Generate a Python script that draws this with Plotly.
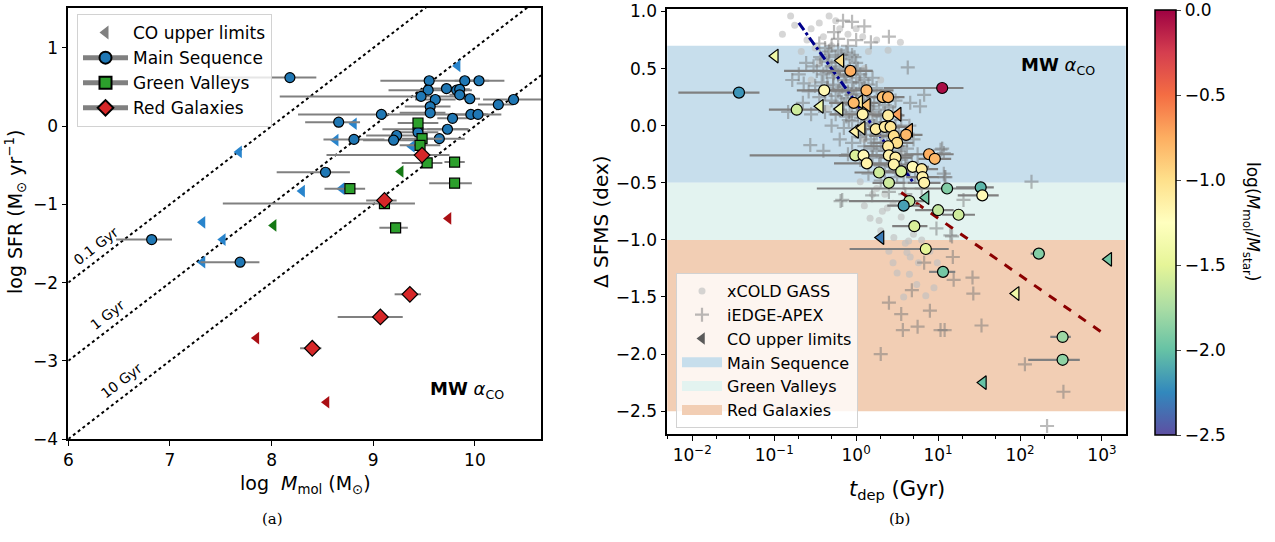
import numpy as np
import plotly.graph_objects as go

# ---------------- Panel (a) data ----------------
ms_x = [8.18, 9.55, 9.90, 10.04, 9.54, 9.72, 9.82, 9.85, 9.47, 9.61, 9.85, 9.95, 10.23, 10.38, 9.56, 9.56,
        9.08, 9.78, 9.96, 10.03, 8.66, 9.44, 9.73, 9.23, 9.20, 8.81, 9.65, 9.44, 8.53, 6.82, 7.69]
ms_y = [0.62, 0.58, 0.58, 0.58, 0.46, 0.48, 0.46, 0.47, 0.38, 0.34, 0.40, 0.35, 0.275, 0.34, 0.25, 0.17,
        0.15, 0.10, 0.15, 0.15, 0.05, -0.04, -0.04, -0.12, -0.18, -0.17, -0.16, -0.08, -0.59, -1.45, -1.74]
ms_elo = [0.72, 0.48, 0.10, 0.10, 0.39, 0.15, 0.10, 0.10, 1.39, 0.20, 0.10, 0.10, 0.20, 0.30, 0.25, 0.30,
          0.82, 0.15, 0.15, 0.10, 0.33, 0.35, 0.20, 0.30, 0.30, 0.30, 0.25, 0.20, 0.48, 0.35, 0.39]
ms_ehi = [0.26, 0.74, 0.10, 0.10, 0.43, 0.15, 0.10, 0.10, 0.48, 0.20, 0.10, 0.10, 0.15, 0.30, 0.20, 0.15,
          1.18, 0.15, 0.15, 0.10, 0.21, 0.50, 0.20, 0.30, 0.30, 0.30, 0.25, 0.20, 0.24, 0.20, 0.19]

gv_x = [9.44, 9.48, 9.46, 9.53, 9.80, 9.80, 8.77, 9.11, 9.22]
gv_y = [0.04, -0.16, -0.245, -0.47, -0.46, -0.73, -0.80, -0.99, -1.30]
gv_elo = [0.20, 0.20, 0.20, 0.25, 0.10, 0.25, 0.25, 1.59, 0.16]
gv_ehi = [0.20, 0.20, 0.20, 0.15, 0.10, 0.17, 0.15, 0.30, 0.12]

rg_x = [9.48, 9.11, 9.36, 9.07, 8.40]
rg_y = [-0.37, -0.95, -2.15, -2.44, -2.84]
rg_elo = [0.94, 0.18, 0.15, 0.42, 0.12]
rg_ehi = [0.27, 0.12, 0.11, 0.22, 0.09]

ulms_x = [9.83, 8.81, 8.63, 9.38, 7.68, 8.69, 8.30, 7.32, 7.52, 7.32]
ulms_y = [0.77, 0.03, -0.18, -0.26, -0.33, -0.80, -0.83, -1.23, -1.45, -1.74]
ulgv_x = [9.27, 8.02]
ulgv_y = [-0.58, -1.27]
ulrg_x = [9.74, 7.85, 8.54]
ulrg_y = [-1.18, -2.71, -3.53]

tdep_lines_gyr = [0.1, 1, 10]
tdep_labels = ["0.1 Gyr", "1 Gyr", "10 Gyr"]
tdep_label_x = [6.27, 6.38, 6.52]
tdep_label_y = [-1.53, -2.41, -3.26]

# ---------------- Panel (b) data ----------------
det_logt = [-1.43, 1.05, -0.07, -0.39, 0.126, -0.725, -0.03, 0.325, 0.39, 0.08, 0.39, 0.24, 0.35, 0.42,
            0.61, 0.46, 0.50, 0.39, 0.40, 0.48, 0.46, -0.01, 0.09, 0.13, 0.89, 0.96, 0.69, 0.80, 0.81,
            0.83, 0.28, 0.55, 0.40, 1.11, 0.65, 0.58, 1.00, 1.25, 0.71, 1.52, 1.54, 2.23, 1.06, 0.85,
            2.52, 2.52]
det_dsfms = [0.29, 0.33, 0.48, 0.31, 0.31, 0.14, 0.20, 0.25, 0.25, 0.10, 0.09, -0.03, -0.01, -0.01,
             -0.08, -0.09, -0.15, -0.18, -0.26, -0.28, -0.34, -0.26, -0.26, -0.33, -0.25, -0.29, -0.36,
             -0.38, -0.45, -0.50, -0.41, -0.40, -0.50, -0.55, -0.66, -0.70, -0.74, -0.78, -0.88, -0.54,
             -0.61, -1.12, -1.28, -1.08, -1.85, -2.05]
det_ratio = [-2.2, -0.05, -0.75, -1.2, -0.8, -1.6, -0.8, -0.85, -0.8, -1.15, -1.1, -1.1, -1.1, -1.05,
             -0.8, -1.0, -1.0, -1.1, -1.15, -1.1, -1.15, -1.55, -1.2, -1.15, -0.75, -0.8, -1.2, -1.1,
             -1.15, -1.15, -1.6, -1.55, -1.6, -1.9, -1.65, -2.15, -1.65, -1.6, -1.55, -2.05, -1.2, -1.9,
             -1.95, -1.5, -1.8, -1.85]
det_elo = [0.74, 0.71, 0.81, 0.20, 0.85, 0.34, 0.30, 0.20, 0.20, 0.40, 0.20, 0.30, 0.20, 0.20, 0.20,
           0.30, 0.30, 0.30, 0.30, 0.20, 0.30, 1.29, 0.30, 0.40, 0.30, 0.20, 0.20, 0.20, 0.20, 0.20,
           0.30, 0.30, 0.20, 1.59, 0.74, 0.20, 0.28, 0.20, 0.27, 0.30, 0.30, 0.10, 0.17, 0.93, 0.15, 0.42]
det_ehi = [0.25, 0.26, 0.27, 0.20, 0.33, 0.29, 0.30, 0.20, 0.20, 0.30, 0.20, 0.20, 0.20, 0.20, 0.20,
           0.20, 0.20, 0.20, 0.30, 0.20, 0.30, 0.50, 0.30, 0.30, 0.30, 0.20, 0.20, 0.20, 0.20, 0.20,
           0.30, 0.30, 0.20, 0.40, 0.18, 0.20, 0.19, 0.20, 0.16, 0.16, 0.20, 0.06, 0.15, 0.28, 0.10, 0.21]

ul_logt = [-0.99, -0.19, 0.134, 0.04, -0.44, -0.20, 0.51, -0.01, 0.07, 0.65, 0.85, 0.30, 3.08, 1.95, 1.55]
ul_dsfms = [0.61, 0.57, 0.18, 0.21, 0.17, 0.146, 0.10, -0.05, -0.02, -0.04, -0.63, -0.98, -1.17, -1.47, -2.25]
ul_ratio = [-1.4, -1.0, -0.85, -1.1, -1.4, -1.35, -0.7, -1.15, -1.1, -0.75, -1.95, -2.3, -1.95, -1.4, -2.0]

iedge_logt = [-0.16, -0.05, 0.10, 0.40, -0.27, -0.22, 0.18, 0.00, -0.10, 0.63, -0.61, -0.78, -0.64, 0.83,
              0.66, 0.78, 1.03, -0.56, -0.40, -0.83, 1.09, -0.17, 0.98, 1.15,
              -0.35, -0.25, -0.15, -0.30, -0.20, -0.10, 0.00, 0.05, -0.40, -0.28, -0.15, -0.05, 0.10, 0.20,
              -0.50, -0.35, -0.22, -0.10, 0.00, 0.15, 0.25, -0.45, -0.30, -0.18, -0.05, 0.08, 0.22, 0.35,
              0.48, -0.38, -0.25, -0.12, 0.02, 0.15, 0.30, 0.45, 0.55, -0.30, -0.15, 0.00, 0.12, 0.25,
              0.38, 0.52, 0.65, -0.20, -0.05, 0.10, 0.22, 0.35, 0.55, 0.70, -0.10, 0.05, 0.20, 0.30, 0.45,
              0.60, 0.75, 0.15, 0.30, 0.50, 0.65, 0.40, 0.60, 0.80,
              1.05, 1.07, 2.14, 1.07, 1.31, 1.17, 1.18, 1.19, 1.42, 1.43, 1.53, 1.03, 2.06, 2.53, 2.33,
              -0.19, 0.195, 1.08, 0.83, 0.68, 0.40, 0.55, 0.75, 0.30, 0.90, 0.57, 1.08,
              -0.45, -0.38, -0.30, -0.22, -0.12, -0.05, -0.42, -0.33, -0.25, -0.08, 0.02, 0.12, -0.48,
              -0.36, -0.22, -0.12, 0.00, 0.15, -0.42, -0.28, -0.17, -0.03, 0.07, 0.30, -0.38, -0.25,
              -0.12, 0.00, 0.13, 0.28, 0.40, -0.20, -0.08, 0.08, 0.20, 0.36, 0.48, -0.05, 0.10, 0.22,
              0.30, 0.44, 0.60, 0.05, 0.18, 0.30, 0.42, 0.50, 0.62, 0.25, 0.40, 0.55, 0.68, 0.35, 0.48,
              0.72, 0.58, -0.58, -0.65, -0.55, -0.70,
              -0.33, -0.18, -0.02, -0.27, -0.13, 0.04, -0.35, -0.20, -0.06, 0.10, -0.15, 0.02, 0.18,
              -0.09, 0.06, 0.25, 0.12, 0.33, 0.45, 0.20, 0.38, 0.52, 0.28, 0.45, 0.62, -0.44, -0.52]
iedge_dsfms = [0.92, 0.91, 0.87, 0.78, 0.82, 0.76, 0.73, 0.75, 0.70, 0.51, 0.55, 0.40, 0.37, 0.27,
               0.20, 0.17, -0.21, -0.17, -0.22, 0.12, -0.45, -0.65, -0.90, -0.96,
               0.62, 0.60, 0.58, 0.52, 0.50, 0.48, 0.55, 0.45, 0.45, 0.42, 0.40, 0.38, 0.40, 0.42,
               0.35, 0.33, 0.30, 0.30, 0.28, 0.30, 0.33, 0.25, 0.22, 0.20, 0.18, 0.22, 0.20, 0.18,
               0.22, 0.12, 0.10, 0.08, 0.10, 0.05, 0.08, 0.12, 0.05, 0.00, -0.02, -0.05, -0.08, -0.05,
               -0.10, -0.05, 0.00, -0.12, -0.15, -0.18, -0.15, -0.22, -0.18, -0.12, -0.25, -0.30, -0.28,
               -0.35, -0.32, -0.28, -0.25, -0.42, -0.48, -0.45, -0.40, -0.58, -0.60, -0.55,
               -0.20, -0.24, -0.49, -0.42, -0.65, -0.97, -1.15, -1.35, -1.33, -1.47, -1.75, -1.79, -2.09,
               -2.33, -2.63, -0.66, -0.61, -0.45, -1.20, -1.44, -1.55, -1.65, -1.76, -2.00, -1.62, -1.79,
               -1.79,
               0.72, 0.68, 0.70, 0.66, 0.64, 0.62, 0.58, 0.56, 0.55, 0.52, 0.50, 0.48, 0.48,
               0.47, 0.44, 0.43, 0.42, 0.36, 0.38, 0.36, 0.34, 0.33, 0.32, 0.26, 0.28, 0.26,
               0.24, 0.22, 0.18, 0.14, 0.16, 0.14, 0.12, 0.14, 0.12, 0.03, 0.00, 0.04, 0.02, 0.00,
               -0.02, -0.06, -0.08, -0.10, -0.12, -0.15, -0.18, -0.12, -0.20, -0.22, -0.26, -0.30, -0.32,
               -0.40, -0.38, -0.45, -0.50, 0.30, 0.20, 0.10, 0.45,
               0.65, 0.62, 0.60, 0.46, 0.45, 0.38, 0.35, 0.32, 0.27, 0.26, 0.19, 0.16, 0.17,
               0.05, 0.07, 0.03, -0.03, -0.08, -0.02, -0.20, -0.19, -0.22, -0.34, -0.36, -0.38, 0.60, 0.52]

xcg_logt = [-0.80, -0.33, -0.90, -0.67, -0.55, -0.45, -0.60, -0.40, -0.20, -0.10, 0.00, 0.08, 0.25, 0.54,
            0.39, -0.50, -0.30, 0.15, -0.75, -0.25,
            -0.45, -0.20, 0.10, -0.55, 0.30, -0.35, 0.20, 0.45, 0.10, 0.55,
            0.05, 0.17, 0.28, 0.32, 0.38, 0.45, 0.46, 0.60, 0.64, 0.50, 0.76, 0.74, 0.85, 0.62, 0.66,
            0.99, 0.20, 0.35, 0.55, 0.70, 0.40, 0.30, 0.80, 0.65, 0.90, 0.25, 0.10, 0.58, 0.45, 0.95]
xcg_dsfms = [0.96, 0.96, 0.80, 0.65, 0.85, 0.90, 0.75, 0.78, 0.85, 0.80, 0.85, 0.78, 0.75, 0.73,
             0.66, 0.68, 0.70, 0.65, 0.88, 0.92,
             0.55, 0.45, 0.50, 0.40, 0.40, 0.15, 0.10, -0.02, -0.12, -0.25,
             -0.49, -0.81, -0.83, -0.75, -0.72, -0.68, -0.98, -1.03, -1.01, -1.29, -1.20, -1.39, -1.49,
             -1.11, -1.15, -1.20, -0.60, -0.60, -0.80, -0.95, -1.10, -0.92, -1.00, -1.30, -1.10, -0.55,
             -0.70, -1.50, -1.20, -1.42]

blue_line_logt = [-0.70, 0.70]
blue_line_dsfms = [0.90, -0.50]
red_line_logt = [0.55, 3.00]
red_line_dsfms = [-0.585, -1.81]

band_names = ["Main Sequence", "Green Valleys", "Red Galaxies"]
band_lo = [-0.5, -1.0, -2.5]
band_hi = [0.7, -0.5, -1.0]
band_colors = ["rgb(199,222,236)", "rgb(227,243,240)", "rgb(242,206,180)"]

# ---------------- layout helpers ----------------
W, H = 1275, 542


def px(v):
    return v / W


def py(v):
    return 1 - v / H


FONT = "DejaVu Sans"
GRAY = "rgb(128,128,128)"
fig = go.Figure()


def errx_lin(elo, ehi):
    return dict(type="data", symmetric=False, array=ehi, arrayminus=elo,
                color=GRAY, thickness=2, width=0)


xl = np.array([6.0, 10.65])
for tg in tdep_lines_gyr:
    fig.add_trace(go.Scatter(x=xl, y=xl - np.log10(tg * 1e9), mode="lines",
                             line=dict(color="black", width=2, dash="dot"),
                             showlegend=False, hoverinfo="skip", xaxis="x", yaxis="y"))

for xs, ys, col in [(ulms_x, ulms_y, "rgb(40,132,204)"), (ulgv_x, ulgv_y, "rgb(20,120,20)"),
                    (ulrg_x, ulrg_y, "rgb(170,15,20)")]:
    fig.add_trace(go.Scatter(x=xs, y=ys, mode="markers",
                             marker=dict(symbol="triangle-left", size=11, color=col),
                             showlegend=False, xaxis="x", yaxis="y"))

for xs, ys, lo, hi, sym, col, sz in [
        (ms_x, ms_y, ms_elo, ms_ehi, "circle", "#1f77b4", 10),
        (gv_x, gv_y, gv_elo, gv_ehi, "square", "#2ca02c", 10),
        (rg_x, rg_y, rg_elo, rg_ehi, "diamond", "#d62728", 12)]:
    fig.add_trace(go.Scatter(x=xs, y=ys, mode="markers", error_x=errx_lin(lo, hi),
                             marker=dict(symbol=sym, size=sz, color=col, line=dict(color="black", width=1.2)),
                             showlegend=False, xaxis="x", yaxis="y"))

fig.add_trace(go.Scatter(x=[None], y=[None], mode="markers", name="CO upper limits",
                         marker=dict(symbol="triangle-left", size=10, color="gray"),
                         xaxis="x", yaxis="y", legend="legend"))
for nm, sym, col in [("Main Sequence", "circle", "#1f77b4"), ("Green Valleys", "square", "#2ca02c"),
                     ("Red Galaxies", "diamond", "#d62728")]:
    fig.add_trace(go.Scatter(x=[None], y=[None], mode="lines+markers", name=nm,
                             line=dict(color=GRAY, width=2),
                             marker=dict(symbol=sym, size=10, color=col, line=dict(color="black", width=1.2)),
                             xaxis="x", yaxis="y", legend="legend"))

xcg_t = 10 ** np.array(xcg_logt)
iedge_t = 10 ** np.array(iedge_logt)
fig.add_trace(go.Scatter(x=xcg_t, y=xcg_dsfms, mode="markers", name="xCOLD GASS",
                         marker=dict(symbol="circle", size=7, color="rgba(192,192,192,0.65)"),
                         xaxis="x2", yaxis="y2", legend="legend2"))
fig.add_trace(go.Scatter(x=iedge_t, y=iedge_dsfms, mode="markers", name="iEDGE-APEX",
                         marker=dict(symbol="cross-thin", size=10, color="rgba(120,120,120,0.5)",
                                     line=dict(color="rgba(120,120,120,0.5)", width=2.2)),
                         xaxis="x2", yaxis="y2", legend="legend2"))

fig.add_trace(go.Scatter(x=10 ** np.array(blue_line_logt), y=blue_line_dsfms, mode="lines",
                         line=dict(color="rgb(0,0,139)", width=3, dash="dashdot"),
                         showlegend=False, xaxis="x2", yaxis="y2"))
fig.add_trace(go.Scatter(x=10 ** np.array(red_line_logt), y=red_line_dsfms, mode="lines",
                         line=dict(color="rgb(139,0,0)", width=3, dash="dash"),
                         showlegend=False, xaxis="x2", yaxis="y2"))

det_t = 10 ** np.array(det_logt)
e_hi = det_t * (10 ** np.array(det_ehi) - 1)
e_lo = det_t * (1 - 10 ** (-np.array(det_elo)))
fig.add_trace(go.Scatter(x=det_t, y=det_dsfms, mode="markers",
                         error_x=dict(type="data", symmetric=False, array=e_hi, arrayminus=e_lo,
                                      color=GRAY, thickness=2.2, width=0),
                         marker=dict(symbol="circle", size=11, color="rgba(0,0,0,0)", line=dict(width=0)),
                         showlegend=False, xaxis="x2", yaxis="y2"))
fig.add_trace(go.Scatter(x=10 ** np.array(ul_logt), y=ul_dsfms, mode="markers",
                         marker=dict(symbol="triangle-left", size=12, color=ul_ratio, colorscale="Spectral_r",
                                     cmin=-2.5, cmax=0, line=dict(color="black", width=1.2)),
                         showlegend=False, xaxis="x2", yaxis="y2"))
fig.add_trace(go.Scatter(x=det_t, y=det_dsfms, mode="markers",
                         marker=dict(symbol="circle", size=11, color=det_ratio, colorscale="Spectral_r",
                                     cmin=-2.5, cmax=0, line=dict(color="black", width=1.2),
                                     colorbar=dict(x=px(1155), xanchor="left", xpad=0, ypad=0,
                                                   y=py(222.5), yanchor="middle",
                                                   len=425 / H, lenmode="fraction", thickness=21,
                                                   outlinecolor="black", outlinewidth=1.5,
                                                   tickmode="array",
                                                   tickvals=[0.0, -0.5, -1.0, -1.5, -2.0, -2.5],
                                                   ticktext=["0.0", "−0.5", "−1.0", "−1.5", "−2.0", "−2.5"],
                                                   ticklabeloverflow="allow",
                                                   ticks="outside", ticklen=5,
                                                   tickfont=dict(family=FONT, size=17, color="black"))),
                         showlegend=False, xaxis="x2", yaxis="y2"))

fig.add_trace(go.Scatter(x=[None], y=[None], mode="markers", name="CO upper limits",
                         marker=dict(symbol="triangle-left", size=11, color="rgb(90,90,90)"),
                         xaxis="x2", yaxis="y2", legend="legend2"))
for nm, col in zip(band_names, band_colors):
    fig.add_trace(go.Scatter(x=[None, None], y=[None, None], mode="lines", line=dict(color=col, width=12),
                             name=nm, xaxis="x2", yaxis="y2", legend="legend2"))

shapes = []
for lo, hi, col in zip(band_lo, band_hi, band_colors):
    shapes.append(dict(type="rect", xref="x2 domain", yref="y2", x0=0, x1=1, y0=lo, y1=hi,
                       fillcolor=col, line=dict(width=0), layer="below"))

annotations = []
for txt, xa, ya in zip(tdep_labels, tdep_label_x, tdep_label_y):
    annotations.append(dict(x=xa, y=ya, xref="x", yref="y", text=txt, showarrow=False, textangle=-37.6,
                            font=dict(family=FONT, size=14, color="black")))


def pap(text, x, y, size, angle=0, family=FONT):
    return dict(x=px(x), y=py(y), xref="paper", yref="paper", text=text, showarrow=False,
                xanchor="center", yanchor="middle", textangle=angle,
                font=dict(family=family, size=size, color="black"))


annotations += [
    dict(x=9.92, y=-3.37, xref="x", yref="y", text="<b>MW</b> <i>α</i><sub>CO</sub>", showarrow=False,
         xanchor="center", yanchor="middle", font=dict(family=FONT, size=18, color="black")),
    pap("<b>MW</b> <i>α</i><sub>CO</sub>", 1058, 66, 18),
    pap("(a)", 272, 519, 15, family="DejaVu Serif"),
    pap("(b)", 899, 519, 15, family="DejaVu Serif"),
    pap("log SFR (M<sub>⊙</sub> yr<sup>−1</sup>)", 15, 212, 19, angle=-90),
    pap("log  <i>M</i><sub>mol</sub> (M<sub>⊙</sub>)", 305, 484, 19),
    pap("Δ SFMS (dex)", 601, 222, 20, angle=-90),
    pap("<i>t</i><sub>dep</sub> (Gyr)", 897, 490, 21),
    pap("log(<i>M</i><sub>mol</sub>/<i>M</i><sub>star</sub>)", 1252, 222, 17, angle=90),
]

axis_common = dict(showgrid=False, zeroline=False, showline=True, linecolor="black", linewidth=1.6,
                   mirror=True, ticks="outside", ticklen=5, tickwidth=1.2, tickcolor="black",
                   automargin=False, ticklabeloverflow="allow",
                   tickfont=dict(family=FONT, size=17, color="black"))

fig.update_layout(
    width=W, height=H, margin=dict(l=0, r=0, t=0, b=0, pad=0, autoexpand=False),
    paper_bgcolor="white", plot_bgcolor="white",
    font=dict(family=FONT, color="black"),
    shapes=shapes, annotations=annotations,
    xaxis=dict(domain=[px(68.3), px(541)], range=[6, 10.65], tickvals=[6, 7, 8, 9, 10],
               anchor="y", **axis_common),
    yaxis=dict(domain=[py(439), py(8)], range=[-4, 1.51], tickvals=[-4, -3, -2, -1, 0, 1],
               anchor="x", **axis_common),
    xaxis2=dict(domain=[px(667.3), px(1125.7)], type="log", range=[-2.305, 3.29],
                tickvals=[0.01, 0.1, 1, 10, 100, 1000],
                ticktext=["10<sup>−2</sup>", "10<sup>−1</sup>", "10<sup>0</sup>", "10<sup>1</sup>",
                          "10<sup>2</sup>", "10<sup>3</sup>"],
                minor=dict(ticks="outside", ticklen=3, tickcolor="black", showgrid=False),
                anchor="y2", **axis_common),
    yaxis2=dict(domain=[py(434), py(9)], range=[-2.70, 1.022],
                tickvals=[1.0, 0.5, 0.0, -0.5, -1.0, -1.5, -2.0, -2.5], tickformat=".1f",
                anchor="x2", **axis_common),
    legend=dict(x=px(77), y=py(14), xanchor="left", yanchor="top", bgcolor="rgba(255,255,255,0.8)",
                bordercolor="rgb(210,210,210)", borderwidth=1, font=dict(family=FONT, size=17),
                itemsizing="constant", itemwidth=45, tracegroupgap=0),
    legend2=dict(x=px(676), y=py(428), xanchor="left", yanchor="bottom", bgcolor="rgba(255,255,255,0.8)",
                 bordercolor="rgb(210,210,210)", borderwidth=1, font=dict(family=FONT, size=16),
                 itemsizing="trace", itemwidth=40, tracegroupgap=0),
)

fig.write_html("out.html", config={"displayModeBar": False},
               post_script="document.body.style.margin='0px';")
